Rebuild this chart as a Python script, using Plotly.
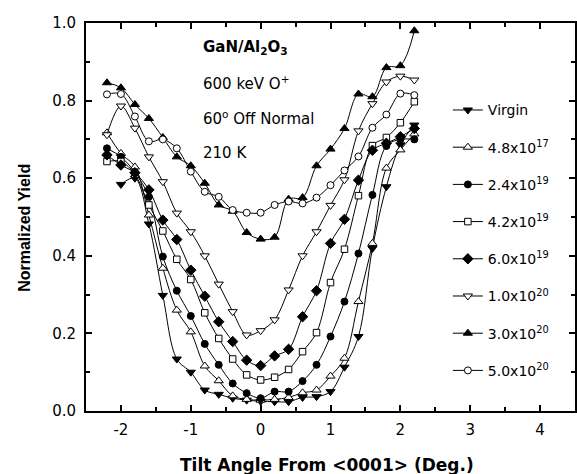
import plotly.graph_objects as go

# Tilt angle (deg)
angles = [-2.2, -2.0, -1.8, -1.6, -1.4, -1.2, -1.0, -0.8, -0.6, -0.4, -0.2, 0.0,
          0.2, 0.4, 0.6, 0.8, 1.0, 1.2, 1.4, 1.6, 1.8, 2.0, 2.2]

virgin = [None, 0.584, 0.600, 0.482, 0.298, 0.134, 0.100, 0.054, 0.043, 0.033, 0.028, 0.025,
          0.024, 0.024, 0.035, 0.037, 0.050, 0.113, 0.192, 0.419, 0.578, 0.686, 0.737]
d_4_8e17 = [0.717, 0.664, 0.629, 0.505, 0.368, 0.260, 0.204, 0.116, 0.078, 0.039, 0.030, 0.028,
            0.030, 0.035, 0.047, 0.054, 0.090, 0.136, 0.282, 0.432, 0.626, 0.673, 0.714]
d_2_4e19 = [0.677, 0.655, 0.615, 0.552, 0.398, 0.310, 0.245, 0.173, 0.119, 0.071, 0.046, 0.033,
            0.050, 0.050, 0.077, 0.119, 0.192, 0.282, 0.406, 0.557, 0.683, 0.700, 0.700]
d_4_2e19 = [0.643, 0.643, 0.610, 0.531, 0.464, 0.391, 0.339, 0.253, 0.187, 0.134, 0.093, 0.080,
            0.087, 0.107, 0.153, 0.202, 0.331, 0.417, 0.555, 0.684, 0.705, 0.743, 0.797]
d_6_0e19 = [0.660, 0.634, 0.614, 0.570, 0.492, 0.442, 0.363, 0.296, 0.230, 0.179, 0.131, 0.117,
            0.142, 0.159, 0.243, 0.310, 0.432, 0.494, 0.595, 0.672, 0.690, 0.707, 0.728]
d_1_0e20 = [0.712, 0.786, 0.729, 0.655, 0.591, 0.510, 0.462, 0.400, 0.327, 0.256, 0.196, 0.207,
            0.235, 0.312, 0.400, 0.462, 0.530, 0.596, 0.722, 0.792, 0.848, 0.863, 0.853]
d_3_0e20 = [0.846, 0.833, 0.790, 0.754, 0.705, 0.655, 0.632, 0.587, 0.531, 0.515, 0.460, 0.443,
            0.448, 0.546, 0.550, 0.632, 0.675, 0.728, 0.817, 0.810, 0.885, 0.890, 0.980]
d_5_0e20 = [0.816, 0.817, 0.759, 0.695, 0.700, 0.677, 0.617, 0.565, 0.552, 0.518, 0.511, 0.511,
            0.531, 0.540, 0.535, 0.550, 0.582, 0.620, 0.656, 0.730, 0.764, 0.818, 0.814]

series_names = ["Virgin", "4.8x10<sup>17</sup>", "2.4x10<sup>19</sup>", "4.2x10<sup>19</sup>",
                "6.0x10<sup>19</sup>", "1.0x10<sup>20</sup>", "3.0x10<sup>20</sup>", "5.0x10<sup>20</sup>"]
series_values = [virgin, d_4_8e17, d_2_4e19, d_4_2e19, d_6_0e19, d_1_0e20, d_3_0e20, d_5_0e20]
symbols = ["triangle-down", "triangle-up", "circle", "square", "diamond",
           "triangle-down", "triangle-up", "circle"]
filled = [True, False, True, False, True, False, True, False]
sizes = [8, 8, 7, 6.5, 8, 8, 8, 7]

x_ticks = [-2, -1, 0, 1, 2, 3, 4]
x_ticklabels = ["-2", "-1", "0", "1", "2", "3", "4"]
y_ticks = [0.0, 0.2, 0.4, 0.6, 0.8, 1.0]
y_ticklabels = ["0.0", "0.2", "0.4", "0.6", "0.8", "1.0"]

ARIAL = "Arial, Liberation Sans, sans-serif"
WIDE = "DejaVu Sans, Arial, sans-serif"

fig = go.Figure()
for i, (name, vals) in enumerate(zip(series_names, series_values)):
    fig.add_trace(go.Scatter(
        x=angles, y=vals, name=name, mode="lines+markers",
        line=dict(color="black", width=1, shape="spline", smoothing=1.0),
        marker=dict(symbol=symbols[i], size=sizes[i],
                    color="black" if filled[i] else "white",
                    line=dict(color="black", width=1)),
        legendgroup=f"g{i}",
    ))

axis_common = dict(
    showline=True, linecolor="black", linewidth=2, mirror="ticks",
    ticks="inside", ticklen=6, tickwidth=1.5, tickcolor="black",
    showgrid=False, zeroline=False, automargin=False,
    tickfont=dict(family=WIDE, size=15, color="black"),
)

fig.update_xaxes(
    range=[-2.5, 4.5], tickvals=x_ticks, ticktext=x_ticklabels, ticklabelstandoff=4,
    minor=dict(ticks="inside", ticklen=4, tickwidth=1.5, tickcolor="black", dtick=0.5, tick0=0),
    **axis_common,
)
fig.update_yaxes(
    range=[0, 1.0], tickvals=y_ticks, ticktext=y_ticklabels, ticklabelstandoff=5,
    minor=dict(ticks="inside", ticklen=4, tickwidth=1.5, tickcolor="black", dtick=0.1, tick0=0),
    **axis_common,
)

# axis titles
fig.add_annotation(x=0.493, y=0, xref="paper", yref="paper", yshift=-54,
                   text="<b>Tilt Angle From &lt;0001&gt; (Deg.)</b>", showarrow=False,
                   xanchor="center", yanchor="middle",
                   font=dict(family=WIDE, size=17, color="black"))
fig.add_annotation(x=0, y=0.472, xref="paper", yref="paper", xshift=-61,
                   text="<b>Normalized Yield</b>", showarrow=False, textangle=-90,
                   xanchor="center", yanchor="middle",
                   font=dict(family=ARIAL, size=16, color="black"))

notes = ["<b>GaN/Al<sub>2</sub>O<sub>3</sub></b>", "600 keV O<sup>+</sup>",
         "60<sup>o</sup> Off Normal", "210 K"]
note_y = [0.938, 0.845, 0.755, 0.665]
for t, yy in zip(notes, note_y):
    fig.add_annotation(x=-0.86, y=yy, xref="x", yref="y", text=t, showarrow=False,
                       xanchor="left", yanchor="middle",
                       font=dict(family=WIDE, size=15, color="black"))

fig.update_layout(
    width=577, height=474,
    margin=dict(l=86, r=2, t=23, b=63, autoexpand=False),
    paper_bgcolor="white", plot_bgcolor="white",
    font=dict(family=WIDE, size=15, color="black"),
    legend=dict(x=0.740, y=0.816, xanchor="left", yanchor="top",
                bgcolor="rgba(0,0,0,0)", borderwidth=0,
                tracegroupgap=16, font=dict(family=WIDE, size=14, color="black")),
)

fig.write_html("out.html", config={"displayModeBar": False},
               post_script="document.body.style.margin='0';document.body.style.overflow='hidden';")
